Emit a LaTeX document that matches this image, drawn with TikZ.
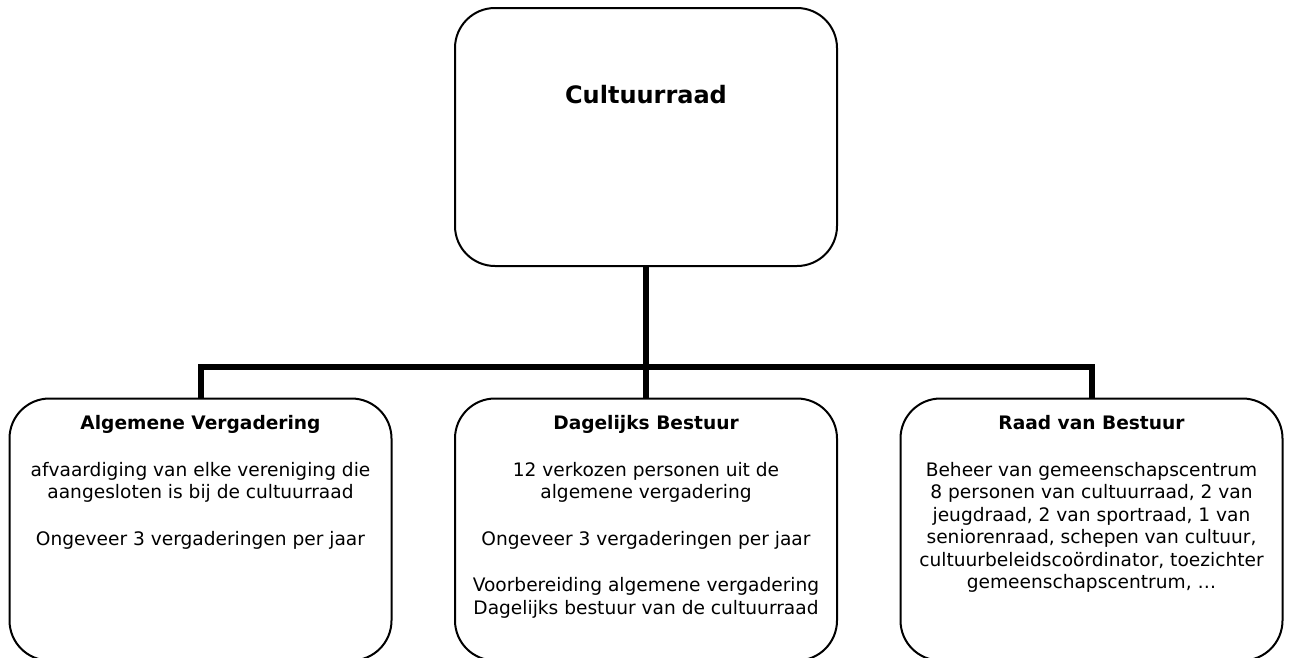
\documentclass[tikz,border=0pt]{standalone}
\usepackage{fontspec}
\setmainfont{DejaVu Sans}
\usepackage{tikz}
\tikzset{
  orgbox/.style={draw, line width=2pt, rounded corners=40pt, minimum width=382pt, minimum height=258pt, inner sep=0pt},
  lowbox/.style={orgbox, minimum height=262pt},
  boxtext/.style={align=center, anchor=north, inner sep=0pt, font=\fontsize{18.6}{22.5}\selectfont},
  headtext/.style={anchor=base, inner sep=0pt, font=\fontsize{24}{29}\selectfont\bfseries},
  link/.style={line width=6pt}
}
\begin{document}
\begin{tikzpicture}[x=1pt,y=-1pt]
\useasboundingbox (0,0) rectangle (1291,657);
\node[orgbox] (cult) at (646,137) {};
\node[lowbox] (alg) at (200.5,529.5) {};
\node[lowbox] (dag) at (646,529.5) {};
\node[lowbox] (rvb) at (1091.5,529.5) {};
\coordinate (fork) at (646,367);
\draw[link] (cult.south) -- (fork);
\draw[link] (dag.north) -- (fork);
\draw[link] (alg.north) |- (fork) -| (rvb.north);
\node[headtext] (cultTxt) at ([yshift=-96pt]cult.north) {Cultuurraad};
\node[boxtext] (algTxt) at ([yshift=-18pt]alg.north) {\textbf{Algemene Vergadering}\\[24pt]
afvaardiging van elke vereniging die\\aangesloten is bij de cultuurraad\\[24pt]
Ongeveer 3 vergaderingen per jaar};
\node[boxtext] (dagTxt) at ([yshift=-18pt]dag.north) {\textbf{Dagelijks Bestuur}\\[24pt]
12 verkozen personen uit de\\algemene vergadering\\[24pt]
Ongeveer 3 vergaderingen per jaar\\[24pt]
Voorbereiding algemene vergadering\\Dagelijks bestuur van de cultuurraad};
\node[boxtext] (rvbTxt) at ([yshift=-18pt]rvb.north) {\textbf{Raad van Bestuur}\\[24pt]
Beheer van gemeenschapscentrum\\8 personen van cultuurraad, 2 van\\jeugdraad, 2 van sportraad, 1 van\\seniorenraad, schepen van cultuur,\\cultuurbeleidscoördinator, toezichter\\gemeenschapscentrum, …};
\end{tikzpicture}
\end{document}
